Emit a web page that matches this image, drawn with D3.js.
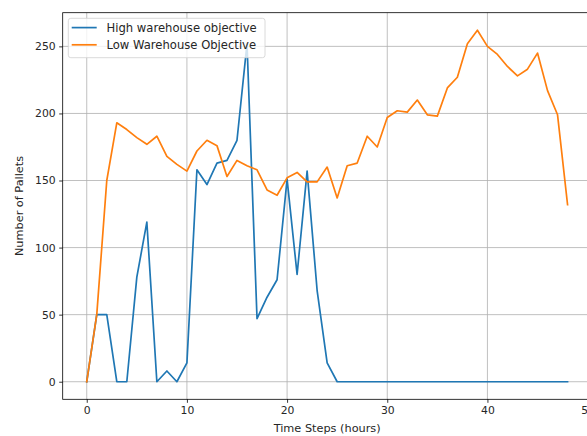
<!DOCTYPE html>
<html><head><meta charset="utf-8">
<script src="https://cdn.jsdelivr.net/npm/d3@7"></script>
<style>
html,body{margin:0;padding:0;background:#fff;overflow:hidden;}
svg{display:block;font-family:"DejaVu Sans",sans-serif;}
</style></head>
<body>
<svg id="chart" width="587" height="436"></svg>
<script>
const timeSteps = d3.range(0, 49);
const highWarehouse = [0,50,50,0,0,78,119,0,8,0,14,158,147,163,165,180,252,47,63,76,151,80,157,68,14,0,0,0,0,0,0,0,0,0,0,0,0,0,0,0,0,0,0,0,0,0,0,0,0];
const lowWarehouse = [0,50,150,193,188,182,177,183,168,162,157,172,180,176,153,165,161,158,143,139,152,156,149,149,160,137,161,163,183,175,197,202,201,210,199,198,219,227,252,262,250,244,235,228,233,245,217,199,132];
const seriesNames = ["High warehouse objective","Low Warehouse Objective"];
const seriesColors = ["#1f77b4","#ff7f0e"];
const xTicks = [0,10,20,30,40,50];
const yTicks = [0,50,100,150,200,250];
const xLabel = "Time Steps (hours)";
const yLabel = "Number of Pallets";

const svg = d3.select("#chart");
const L = 62.7, R = 591.6, T = 12.7, B = 399.3;
const xMin = 0, xMax = 48, yMax = d3.max([...highWarehouse, ...lowWarehouse]);
const xPad = (xMax - xMin) * 0.05, yPad = yMax * 0.05;
const x = d3.scaleLinear().domain([xMin - xPad, xMax + xPad]).range([L, R]);
const y = d3.scaleLinear().domain([-yPad, yMax + yPad]).range([B, T]);

// grid
const g = svg.append("g");
g.selectAll(".gx").data(xTicks).join("line")
  .attr("x1", d => x(d)).attr("x2", d => x(d)).attr("y1", T).attr("y2", B)
  .attr("stroke", "#b0b0b0").attr("stroke-width", 0.8);
g.selectAll(".gy").data(yTicks).join("line")
  .attr("x1", L).attr("x2", R).attr("y1", d => y(d)).attr("y2", d => y(d))
  .attr("stroke", "#b0b0b0").attr("stroke-width", 0.8);

// lines
const series = [highWarehouse, lowWarehouse];
const line = d3.line().x((d, i) => x(timeSteps[i])).y(d => y(d));
series.forEach((s, k) => {
  svg.append("path").datum(s).attr("d", line)
    .attr("fill", "none").attr("stroke", seriesColors[k])
    .attr("stroke-width", 1.7).attr("stroke-linejoin", "round").attr("stroke-linecap", "square");
});

// axes
const xAxis = d3.axisBottom(x).tickValues(xTicks).tickSize(3.5).tickPadding(3.5).tickFormat(d3.format("d"));
const yAxis = d3.axisLeft(y).tickValues(yTicks).tickSize(3.5).tickPadding(3.5).tickFormat(d3.format("d"));
const ax = svg.append("g").attr("transform", `translate(0,${B})`).call(xAxis);
const ay = svg.append("g").attr("transform", `translate(${L},0)`).call(yAxis);
[ax, ay].forEach(a => {
  a.select(".domain").remove();
  a.selectAll("line").attr("stroke", "#000").attr("stroke-width", 0.8);
  a.selectAll("text").attr("font-size", 10.8).attr("fill", "#262626")
    .attr("font-family", "DejaVu Sans, sans-serif");
});
// spines
svg.append("rect").attr("x", L).attr("y", T).attr("width", R - L).attr("height", B - T)
  .attr("fill", "none").attr("stroke", "#000").attr("stroke-width", 0.8);

// axis labels
svg.append("text").attr("x", (L + R) / 2).attr("y", 431.5).attr("text-anchor", "middle")
  .attr("font-size", 11.3).attr("fill", "#262626").text(xLabel);
svg.append("text").attr("transform", `translate(22.5,${(T + B) / 2}) rotate(-90)`)
  .attr("text-anchor", "middle").attr("font-size", 11.3).attr("fill", "#262626").text(yLabel);

// legend
const lg = svg.append("g");
lg.append("rect").attr("x", 68.3).attr("y", 18.3).attr("width", 196.7).attr("height", 39.4)
  .attr("rx", 2.5).attr("fill", "rgba(255,255,255,0.8)").attr("stroke", "#d0d0d0").attr("stroke-width", 0.8);
seriesNames.forEach((n, k) => {
  const yy = 27.6 + k * 17.2;
  lg.append("line").attr("x1", 71.7).attr("x2", 96.7).attr("y1", yy).attr("y2", yy)
    .attr("stroke", seriesColors[k]).attr("stroke-width", 1.7);
  lg.append("text").attr("x", 106.5).attr("y", yy + 4.2).attr("font-size", 11.6)
    .attr("fill", "#262626").text(n);
});
</script>
</body></html>
